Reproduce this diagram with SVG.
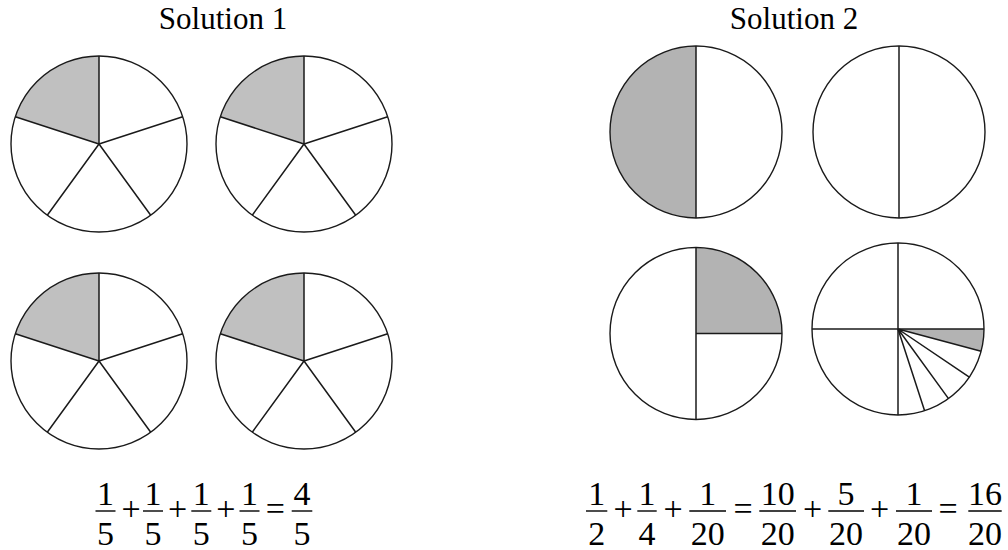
<svg xmlns="http://www.w3.org/2000/svg" xmlns:xlink="http://www.w3.org/1999/xlink" width="1008" height="550" viewBox="0 0 1008 550">
<style>
  .ol{fill:none;stroke:#1a1a1a;stroke-width:1.4}
  .ln{stroke:#1a1a1a;stroke-width:1.5;fill:none}
  .g1{fill:#c0c0c0;stroke:none}
  .g2{fill:#b3b3b3;stroke:none}
  .bg{fill:#ffffff;stroke:none}
  text{font-family:'Liberation Serif','Times New Roman',serif;fill:#000}
  .title{font-size:31px;text-anchor:middle}
  .m{font-size:34px;text-anchor:middle}
  .bar{stroke:#000;stroke-width:1.4}
</style>
<defs>
  <g id="pent">
    <circle class="bg" r="88"/>
    <path class="g1" d="M0,0 L0,-88 A88,88 0 0 0 -83.69,-27.19 Z"/>
    <circle class="ol" r="88"/>
    <path class="ln" d="M0,0 L0,-88 M0,0 L-83.69,-27.19 M0,0 L83.69,-27.19 M0,0 L51.73,71.19 M0,0 L-51.73,71.19"/>
  </g>
  <g id="f15" font-family="Liberation Serif, Times New Roman, serif">
    <text class="m" x="0" y="-6" font-family="Liberation Serif, Times New Roman, serif">1</text>
    <line class="bar" x1="-10" y1="0" x2="10" y2="0"/>
    <text class="m" x="0" y="34" font-family="Liberation Serif, Times New Roman, serif">5</text>
  </g>
</defs>

<g font-family="Liberation Serif, Times New Roman, serif">
<text id="title1" class="title" x="223" y="29" font-family="Liberation Serif, Times New Roman, serif">Solution 1</text>
<text id="title2" class="title" x="794" y="29" font-family="Liberation Serif, Times New Roman, serif">Solution 2</text>
</g>

<g id="s1-pie1" transform="translate(99,144)"><use xlink:href="#pent"/></g>
<g id="s1-pie2" transform="translate(304,144)"><use xlink:href="#pent"/></g>
<g id="s1-pie3" transform="translate(99,361)"><use xlink:href="#pent"/></g>
<g id="s1-pie4" transform="translate(304,361)"><use xlink:href="#pent"/></g>

<g id="s2-half">
  <path class="g2" d="M696,46 A86,86 0 0 0 696,218 Z"/>
  <circle class="ol" cx="696" cy="132" r="86"/>
  <line class="ln" x1="696" y1="46" x2="696" y2="218"/>
</g>
<g id="s2-halfempty">
  <circle class="ol" cx="899" cy="132" r="86"/>
  <line class="ln" x1="899" y1="46" x2="899" y2="218"/>
</g>
<g id="s2-quarter">
  <path class="g2" d="M696,333.5 L696,247.5 A86,86 0 0 1 782,333.5 Z"/>
  <circle class="ol" cx="696" cy="333.5" r="86"/>
  <line class="ln" x1="696" y1="247.5" x2="696" y2="419.5"/>
  <line class="ln" x1="696" y1="333.5" x2="782" y2="333.5"/>
</g>
<g id="s2-twentieth">
  <path class="g2" d="M898,329 L984,329 A86,86 0 0 1 981.1,351.3 Z"/>
  <circle class="ol" cx="898" cy="329" r="86"/>
  <line class="ln" x1="898" y1="243" x2="898" y2="415"/>
  <line class="ln" x1="812" y1="329" x2="984" y2="329"/>
  <path class="ln" d="M898,329 L981.1,351.3 M898,329 L969.3,377.1 M898,329 L948.5,398.6 M898,329 L924.6,410.8"/>
</g>

<g id="eq1" font-family="Liberation Serif, Times New Roman, serif">
  <use xlink:href="#f15" transform="translate(105.5,511)"/>
  <text class="m" x="131" y="520">+</text>
  <use xlink:href="#f15" transform="translate(153,511)"/>
  <text class="m" x="177.5" y="520">+</text>
  <use xlink:href="#f15" transform="translate(201.3,511)"/>
  <text class="m" x="225.8" y="520">+</text>
  <use xlink:href="#f15" transform="translate(249.5,511)"/>
  <text class="m" x="275.3" y="520">=</text>
  <text class="m" x="302" y="505">4</text>
  <line class="bar" x1="291.7" y1="511" x2="312.3" y2="511"/>
  <text class="m" x="302" y="545">5</text>
</g>

<g id="eq2" font-family="Liberation Serif, Times New Roman, serif">
  <text class="m" x="596.7" y="505">1</text>
  <line class="bar" x1="586" y1="511" x2="607.3" y2="511"/>
  <text class="m" x="596.7" y="545">2</text>
  <text class="m" x="623" y="520">+</text>
  <text class="m" x="647" y="505">1</text>
  <line class="bar" x1="637.3" y1="511" x2="656.7" y2="511"/>
  <text class="m" x="647" y="545">4</text>
  <text class="m" x="673" y="520">+</text>
  <text class="m" x="707.7" y="505">1</text>
  <line class="bar" x1="689.3" y1="511" x2="726" y2="511"/>
  <text class="m" x="707.7" y="545">20</text>
  <text class="m" x="743" y="520">=</text>
  <text class="m" x="777.7" y="505">10</text>
  <line class="bar" x1="759.3" y1="511" x2="796" y2="511"/>
  <text class="m" x="777.7" y="545">20</text>
  <text class="m" x="812.5" y="520">+</text>
  <text class="m" x="846" y="505">5</text>
  <line class="bar" x1="828.3" y1="511" x2="864" y2="511"/>
  <text class="m" x="846" y="545">20</text>
  <text class="m" x="879.7" y="520">+</text>
  <text class="m" x="914" y="505">1</text>
  <line class="bar" x1="896" y1="511" x2="932" y2="511"/>
  <text class="m" x="914" y="545">20</text>
  <text class="m" x="948" y="520">=</text>
  <text class="m" x="985" y="505">16</text>
  <line class="bar" x1="968.3" y1="511" x2="1001.7" y2="511"/>
  <text class="m" x="985" y="545">20</text>
</g>
</svg>
